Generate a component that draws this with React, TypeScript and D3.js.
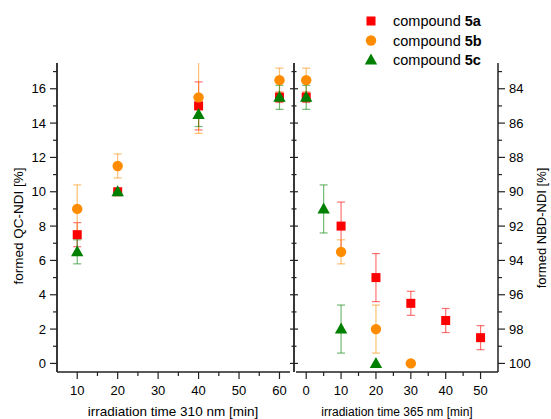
import React from "react";
import * as d3 from "d3";

// irradiation at 310 nm -> formed QC-NDI [%]
const t310 = [10, 20, 40, 60];
const qc5a = [7.5, 10, 15, 15.5];
const qc5aErr = [0.7, 0.1, 1.4, 0.3];
const qc5b = [9, 11.5, 15.5, 16.5];
const qc5bErr = [1.4, 0.7, 2.1, 0.7];
const qc5c = [6.5, 10, 14.5, 15.5];
const qc5cErr = [0.7, 0.1, 0.7, 0.7];

// irradiation at 365 nm -> formed NBD-NDI [%]
const t365a = [0, 10, 20, 30, 40, 50];
const nbd5a = [84.5, 92, 95, 96.5, 97.5, 98.5];
const nbd5aErr = [0.3, 1.4, 1.4, 0.7, 0.7, 0.7];
const t365b = [0, 10, 20, 30];
const nbd5b = [83.5, 93.5, 98, 100];
const nbd5bErr = [0.7, 0.7, 1.4, 0];
const t365c = [0, 5, 10, 20];
const nbd5c = [84.5, 91, 98, 100];
const nbd5cErr = [0.7, 1.4, 1.4, 0];

const leftTicks = [0, 2, 4, 6, 8, 10, 12, 14, 16];
const rightTicks = [84, 86, 88, 90, 92, 94, 96, 98, 100];
const x310Ticks = [10, 20, 30, 40, 50, 60];
const x365Ticks = [0, 10, 20, 30, 40, 50];
const legendNames = ["5a", "5b", "5c"];

const FONT = "'Liberation Sans', Arial, sans-serif";
const colors = { a: "#ff0000", b: "#ff8c00", c: "#008000" };
const AX = "#222";

const top = 63;
const bottom = 372;
const yLeft = d3.scaleLinear().domain([-0.5, 17.5]).range([bottom, top]);
const yRight = d3.scaleLinear().domain([82.5, 100.5]).range([top, bottom]);
const xLeft = d3.scaleLinear().domain([5, 62.6]).range([57, 290]);
const xRight = d3.scaleLinear().domain([-3.5, 55]).range([294, 498]);

type Shape = "square" | "circle" | "triangle";

const Marker = ({ shape, cx, cy, color }: { shape: Shape; cx: number; cy: number; color: string }) => {
  if (shape === "square") return <rect x={cx - 4.5} y={cy - 4.5} width={9} height={9} fill={color} />;
  if (shape === "circle") return <circle cx={cx} cy={cy} r={5.2} fill={color} />;
  return <path d={`M${cx},${cy - 6.5}L${cx - 6.2},${cy + 4.5}L${cx + 6.2},${cy + 4.5}Z`} fill={color} />;
};

const series = (
  xs: number[], ys: number[], errs: number[], shape: Shape, color: string,
  xs_: d3.ScaleLinear<number, number>, ys_: d3.ScaleLinear<number, number>
) => xs.map((x, i) => ({ cx: xs_(x), cy: ys_(ys[i]), lo: ys_(ys[i] - errs[i]), hi: ys_(ys[i] + errs[i]), err: errs[i], shape, color }));

const leftSeries = [
  series(t310, qc5a, qc5aErr, "square", colors.a, xLeft, yLeft),
  series(t310, qc5b, qc5bErr, "circle", colors.b, xLeft, yLeft),
  series(t310, qc5c, qc5cErr, "triangle", colors.c, xLeft, yLeft),
];
const rightSeries = [
  series(t365a, nbd5a, nbd5aErr, "square", colors.a, xRight, yRight),
  series(t365b, nbd5b, nbd5bErr, "circle", colors.b, xRight, yRight),
  series(t365c, nbd5c, nbd5cErr, "triangle", colors.c, xRight, yRight),
];

const ErrBars = ({ pts }: { pts: ReturnType<typeof series> }) => (
  <g>
    {pts.filter((p) => p.err > 0.15).map((p, i) => (
      <g key={i} stroke={p.color} strokeOpacity={0.55} strokeWidth={1.2}>
        <line x1={p.cx} x2={p.cx} y1={p.lo} y2={p.hi} />
        <line x1={p.cx - 4} x2={p.cx + 4} y1={p.lo} y2={p.lo} />
        <line x1={p.cx - 4} x2={p.cx + 4} y1={p.hi} y2={p.hi} />
      </g>
    ))}
  </g>
);

const Points = ({ pts }: { pts: ReturnType<typeof series> }) => (
  <g>
    {pts.map((p, i) => (
      <Marker key={i} shape={p.shape} cx={p.cx} cy={p.cy} color={p.color} />
    ))}
  </g>
);

export default function App() {
  const minorLeft = d3.range(1, 18, 2);
  const minor310 = d3.range(15, 60, 10);
  const minor365 = d3.range(5, 50, 10);

  return (
    <svg width={551} height={419} style={{ position: "absolute", left: 0, top: 0, background: "#fff" }} fontFamily={FONT}>
      <defs>
        <clipPath id="clipL"><rect x={57} y={top} width={233} height={bottom - top} /></clipPath>
        <clipPath id="clipR"><rect x={294} y={top} width={204} height={bottom - top} /></clipPath>
      </defs>

      {/* left panel axes */}
      <g stroke={AX} strokeWidth={1.5}>
        <line x1={57} x2={57} y1={top} y2={bottom} strokeWidth={1.8} />
        <line x1={57} x2={290} y1={bottom} y2={bottom} />
        {leftTicks.map((t) => <line key={t} x1={50} x2={57} y1={yLeft(t)} y2={yLeft(t)} strokeWidth={1.2} />)}
        {minorLeft.map((t) => <line key={t} x1={53} x2={57} y1={yLeft(t)} y2={yLeft(t)} strokeWidth={1.2} />)}
        {x310Ticks.map((t) => <line key={t} x1={xLeft(t)} x2={xLeft(t)} y1={bottom} y2={bottom + 7} strokeWidth={1.2} />)}
        {minor310.map((t) => <line key={t} x1={xLeft(t)} x2={xLeft(t)} y1={bottom} y2={bottom + 4} strokeWidth={1.2} />)}
      </g>
      <g fontSize={13} fill="#000">
        {leftTicks.map((t) => <text key={t} x={46} y={yLeft(t) + 4.5} textAnchor="end">{t}</text>)}
        {x310Ticks.map((t) => <text key={t} x={xLeft(t)} y={395} textAnchor="middle">{t}</text>)}
      </g>

      {/* right panel axes */}
      <g stroke={AX} strokeWidth={1.5}>
        <line x1={294} x2={294} y1={top} y2={bottom} strokeWidth={1.8} />
        <line x1={296} x2={498} y1={bottom} y2={bottom} />
        <line x1={498} x2={498} y1={top} y2={bottom} />
        {rightTicks.map((t) => <line key={t} x1={290} x2={298} y1={yRight(t)} y2={yRight(t)} strokeWidth={1.2} />)}
        {minorLeft.map((t) => <line key={t} x1={291.5} x2={296.5} y1={yRight(100 - t)} y2={yRight(100 - t)} strokeWidth={1.2} />)}
        {rightTicks.map((t) => <line key={t} x1={498} x2={505} y1={yRight(t)} y2={yRight(t)} strokeWidth={1.2} />)}
        {minorLeft.map((t) => <line key={t} x1={498} x2={502} y1={yRight(100 - t)} y2={yRight(100 - t)} strokeWidth={1.2} />)}
        {x365Ticks.map((t) => <line key={t} x1={xRight(t)} x2={xRight(t)} y1={bottom} y2={bottom + 7} strokeWidth={1.2} />)}
        {minor365.map((t) => <line key={t} x1={xRight(t)} x2={xRight(t)} y1={bottom} y2={bottom + 4} strokeWidth={1.2} />)}
      </g>
      <g fontSize={13} fill="#000">
        {rightTicks.map((t) => <text key={t} x={509} y={yRight(t) + 4.5}>{t}</text>)}
        {x365Ticks.map((t) => <text key={t} x={xRight(t)} y={395} textAnchor="middle">{t}</text>)}
      </g>

      {/* axis titles */}
      <text x={173} y={416} fontSize={13.5} textAnchor="middle">irradiation time 310 nm [min]</text>
      <text x={397} y={416} fontSize={12} textAnchor="middle">irradiation time 365 nm [min]</text>
      <text transform="translate(23,226) rotate(-90)" fontSize={13.5} textAnchor="middle">formed QC-NDI [%]</text>
      <text transform="translate(546,228) rotate(-90)" fontSize={13} textAnchor="middle">formed NBD-NDI [%]</text>

      {/* data */}
      <g clipPath="url(#clipL)">
        {leftSeries.map((s, i) => <ErrBars key={i} pts={s} />)}
        {leftSeries.map((s, i) => <Points key={i} pts={s} />)}
      </g>
      <g clipPath="url(#clipR)">
        {rightSeries.map((s, i) => <ErrBars key={i} pts={s} />)}
        {rightSeries.map((s, i) => <Points key={i} pts={s} />)}
      </g>

      {/* legend */}
      {legendNames.map((n, i) => {
        const shape: Shape = (["square", "circle", "triangle"] as Shape[])[i];
        const color = [colors.a, colors.b, colors.c][i];
        const cy = 21 + i * 19.5;
        return (
          <g key={n}>
            <Marker shape={shape} cx={371} cy={cy} color={color} />
            <text x={393} y={cy + 5} fontSize={14.5}>
              compound <tspan fontWeight="bold">{n}</tspan>
            </text>
          </g>
        );
      })}
    </svg>
  );
}
